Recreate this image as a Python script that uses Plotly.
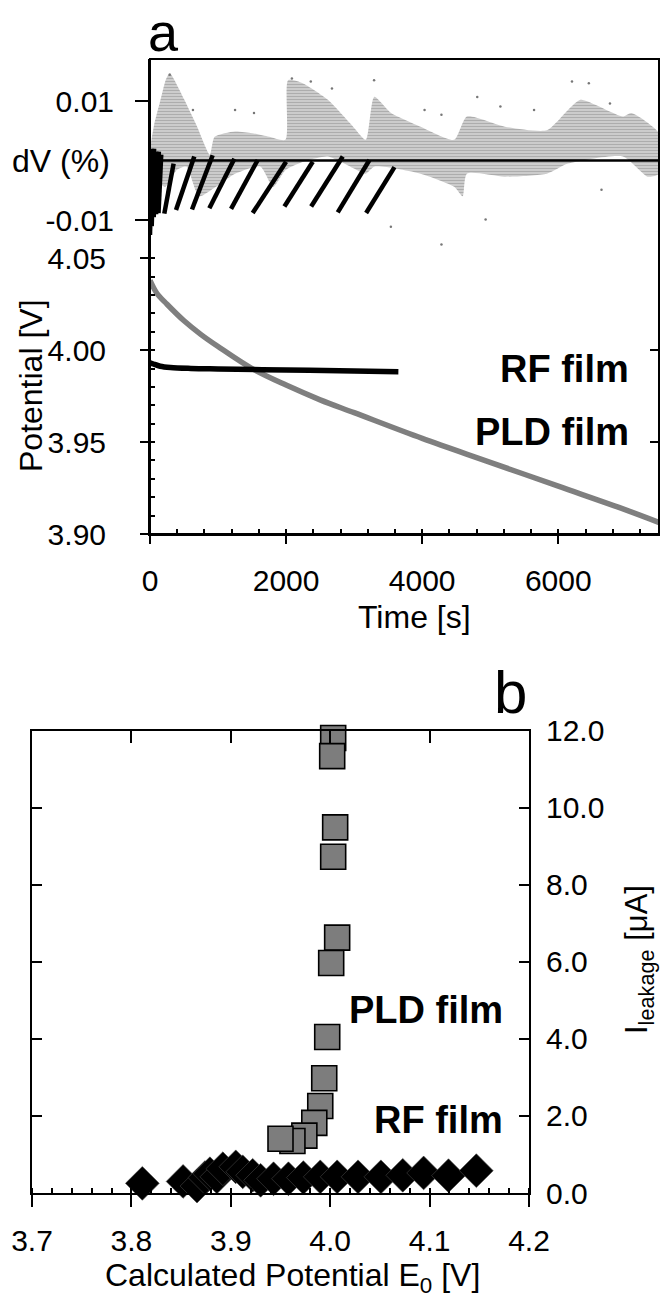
import plotly.graph_objects as go

W, H = 660, 1298
FONT = "Liberation Sans, Arial, Helvetica, sans-serif"

# ---------------- panel a: potential vs time ----------------
pld_t = [0, 100, 250, 500, 750, 1000, 1500, 2000, 2500, 3000, 4000, 5000, 6000, 7000, 7500]
pld_v = [4.038, 4.031, 4.025, 4.016, 4.0085, 4.002, 3.990, 3.981, 3.973, 3.966,
         3.952, 3.939, 3.926, 3.913, 3.906]

rf_t = [0, 50, 150, 300, 600, 1000, 2000, 3000, 3650]
rf_v = [3.9932, 3.9925, 3.9913, 3.9906, 3.9901, 3.9898, 3.9892, 3.9887, 3.9883]

# ---------------- panel a: dV (%) ----------------
# envelope of the grey PLD scatter (upper and lower edge)
band_up_t = [0, 60, 150, 230, 290, 360, 505, 693, 880, 950, 1250, 1500, 1750, 1990, 2030,
             2243, 2614, 2985, 3171, 3295, 3543, 3976, 4471, 4657, 5214, 5833, 6143,
             6329, 6948, 7072, 7480]
band_up_dv = [0.002, 0.006, 0.010, 0.0135, 0.0147, 0.0135, 0.0102, 0.0057, 0.0010, 0.0040,
              0.0049, 0.0046, 0.0040, 0.0035, 0.0135, 0.0130, 0.0102, 0.0057, 0.0035,
              0.0107, 0.0080, 0.0057, 0.0035, 0.0074, 0.0057, 0.0051, 0.0085, 0.0102,
              0.0074, 0.0080, 0.0046]
band_lo_t = [0, 60, 150, 225, 400, 535, 721, 969, 1250, 1620, 1810, 1990, 2300, 2614, 3047,
             3171, 3300, 3976, 4471, 4595, 4657, 5214, 5833, 6143, 6948, 7318, 7480]
band_lo_dv = [-0.0120, -0.0080, -0.0040, -0.0044, -0.0015, -0.0010, -0.0060, -0.0044,
              -0.0022, -0.0010, -0.0044, -0.0016, 0.0000, 0.0007, -0.0016, -0.0022,
              -0.0010, -0.0022, -0.0044, -0.0060, -0.0022, -0.0027, -0.0022, -0.0005,
              0.0007, -0.0027, -0.0022]

# scattered grey points outside the band
dv_dot_t = [290, 631, 1250, 1528, 2085, 2363, 2674, 3293, 4035, 4283, 4809, 5149, 5644,
            6201, 6449, 6759, 3540, 4932, 6635, 4283]
dv_dot_v = [0.0144, 0.0085, 0.0085, 0.0080, 0.0138, 0.0133, 0.0121, 0.0135, 0.0085,
            0.0077, 0.0107, 0.0091, 0.0085, 0.0133, 0.0130, 0.0096, -0.0111, -0.0099,
            -0.0049, -0.0141]

# black RF dV strokes (start -> end)
rf_dv_t0 = [0, 25, 55, 90, 125, 210, 382, 617, 872, 1191, 1509, 1975, 2368, 2759, 3176]
rf_dv_v0 = [-0.0125, -0.0110, -0.0095, -0.0090, -0.0088, -0.0089, -0.0083, -0.0082,
            -0.0080, -0.0081, -0.0088, -0.0077, -0.0077, -0.0087, -0.0088]
rf_dv_t1 = [30, 60, 95, 130, 165, 347, 651, 921, 1240, 1583, 2000, 2392, 2833, 3225, 3593]
rf_dv_v1 = [0.0020, 0.0020, 0.0015, 0.0015, 0.0010, -0.0005, 0.0007, 0.0009, 0.0003,
            0.0001, -0.0002, -0.0002, 0.0007, 0.0001, -0.0011]

# ---------------- panel b: leakage current ----------------
pld_e0 = [4.003, 4.002, 4.005, 4.003, 4.007, 4.001, 3.997, 3.994, 3.990, 3.984, 3.974,
          3.962, 3.950]
pld_i = [11.81, 11.34, 9.49, 8.73, 6.63, 5.97, 4.05, 2.98, 2.26, 1.82, 1.49, 1.35, 1.41]

rf_e0 = [3.811, 3.852, 3.866, 3.874, 3.879, 3.886, 3.892, 3.898, 3.905, 3.912, 3.922,
         3.930, 3.943, 3.958, 3.973, 3.990, 4.007, 4.028, 4.051, 4.073, 4.094, 4.119, 4.147]
rf_i = [0.25, 0.30, 0.18, 0.40, 0.50, 0.42, 0.63, -0.06, 0.68, 0.55, 0.46, 0.33, 0.37,
        0.37, 0.40, 0.42, 0.42, 0.42, 0.42, 0.46, 0.52, 0.45, 0.58]


def px(x):
    return x / W


def py(y):
    return 1 - y / H


# build polygon of the grey band and the broken stroke line
band_x = band_up_t + band_lo_t[::-1]
band_y = band_up_dv + band_lo_dv[::-1]
stroke_x, stroke_y = [], []
for a, b, c, d in zip(rf_dv_t0, rf_dv_v0, rf_dv_t1, rf_dv_v1):
    stroke_x += [a, c, None]
    stroke_y += [b, d, None]

fig = go.Figure()

# dV panel
fig.add_trace(go.Scatter(
    x=band_x, y=band_y, xaxis="x", yaxis="y2", mode="lines", fill="toself",
    fillcolor="rgba(0,0,0,0)", line=dict(width=0, shape="spline", smoothing=0.6),
    fillpattern=dict(shape="-", fgcolor="#5c5c5c", bgcolor="white", size=3, solidity=0.75),
    showlegend=False, hoverinfo="skip"))
fig.add_trace(go.Scatter(
    x=dv_dot_t, y=dv_dot_v, xaxis="x", yaxis="y2", mode="markers",
    marker=dict(size=2.5, color="#777777"), showlegend=False, hoverinfo="skip"))
fig.add_trace(go.Scatter(
    x=stroke_x, y=stroke_y, xaxis="x", yaxis="y2", mode="lines",
    line=dict(color="black", width=4.5), showlegend=False, hoverinfo="skip"))

# potential panel
fig.add_trace(go.Scatter(
    x=pld_t, y=pld_v, mode="lines", line=dict(color="#7f7f7f", width=5.5, shape="spline"),
    showlegend=False))
fig.add_trace(go.Scatter(
    x=rf_t, y=rf_v, mode="lines", line=dict(color="black", width=5.5, shape="spline"),
    showlegend=False))
fig.add_trace(go.Scatter(x=[None], y=[None], xaxis="x", yaxis="y3", showlegend=False))

# panel b
fig.add_trace(go.Scatter(
    x=rf_e0, y=rf_i, xaxis="x2", yaxis="y4", mode="markers", cliponaxis=False,
    marker=dict(symbol="diamond", size=26, color="black", line=dict(color="#444", width=0.6)),
    showlegend=False))
fig.add_trace(go.Scatter(
    x=pld_e0, y=pld_i, xaxis="x2", yaxis="y4", mode="markers", cliponaxis=False,
    marker=dict(symbol="square", size=25, color="#7d7d7d", line=dict(color="black", width=1.6)),
    showlegend=False))
fig.add_trace(go.Scatter(x=[None], y=[None], xaxis="x3", yaxis="y5", showlegend=False))

tickfont = dict(family=FONT, size=30, color="black")
axcommon = dict(showgrid=False, zeroline=False, showline=True, linecolor="black",
                linewidth=2, tickcolor="black", tickwidth=2, tickfont=tickfont,
                automargin=False)

fig.update_layout(
    width=W, height=H, margin=dict(l=0, r=0, t=0, b=0, pad=0, autoexpand=False),
    paper_bgcolor="white", plot_bgcolor="rgba(0,0,0,0)",
    font=dict(family=FONT, color="black"),
    xaxis=dict(axcommon, domain=[px(150), px(659)], anchor="y", range=[0, 7480],
               tickmode="linear", tick0=0, dtick=2000, ticks="outside", ticklen=8,
               ticklabelstandoff=11,
               minor=dict(tickmode="linear", tick0=0, dtick=400, ticks="inside",
                          ticklen=5, tickwidth=1.5, tickcolor="black")),
    yaxis=dict(axcommon, domain=[py(534), py(258.3)], anchor="x", range=[3.90, 4.05],
               tickmode="linear", tick0=3.90, dtick=0.05, tickformat=".2f",
               ticks="outside", ticklen=8, ticklabelstandoff=28,
               minor=dict(tickmode="linear", tick0=3.90, dtick=0.01, ticks="inside",
                          ticklen=5, tickwidth=1.5, tickcolor="black")),
    yaxis2=dict(axcommon, domain=[py(300), py(59)], anchor="x", range=[-0.0234, 0.01706],
                tickmode="array", tickvals=[-0.01, 0.01], ticktext=["-0.01", "0.01"],
                ticks="outside", ticklen=13, ticklabelstandoff=15),
    yaxis3=dict(axcommon, overlaying="y", anchor="x", side="right", range=[3.90, 4.05],
                tickmode="linear", tick0=3.90, dtick=0.05, ticks="inside", ticklen=9,
                showticklabels=False),
    xaxis2=dict(axcommon, domain=[px(32), px(529)], anchor="y4", range=[3.7, 4.2],
                tickmode="linear", tick0=3.7, dtick=0.1, tickformat=".1f",
                ticks="outside", ticklen=12, ticklabelstandoff=8,
                minor=dict(tickmode="linear", tick0=3.7, dtick=0.02, ticks="inside",
                           ticklen=5, tickwidth=1.5, tickcolor="black")),
    xaxis3=dict(axcommon, overlaying="x2", anchor="y4", side="top", range=[3.7, 4.2],
                tickmode="linear", tick0=3.7, dtick=0.1, ticks="inside", ticklen=12,
                showticklabels=False),
    yaxis4=dict(axcommon, domain=[py(1193), py(730.7)], anchor="x2", side="right",
                range=[0, 12], tickmode="linear", tick0=0, dtick=2, tickformat=".1f",
                ticks="inside", ticklen=10, ticklabelstandoff=9),
    yaxis5=dict(axcommon, overlaying="y4", anchor="x2", side="left", range=[0, 12],
                tickmode="linear", tick0=0, dtick=2, ticks="inside", ticklen=10,
                showticklabels=False),
)

# frame of panel a and the dV zero line
fig.add_shape(type="rect", xref="x domain", yref="paper", x0=0, x1=1, y0=py(534), y1=py(59),
              line=dict(color="black", width=2), layer="above")
fig.add_shape(type="line", xref="x domain", yref="y2", x0=0, x1=1, y0=0, y1=0,
              line=dict(color="black", width=2.5), layer="above")

big = dict(family=FONT, size=32, color="black")
bold = dict(family=FONT, size=38, color="black", weight="bold")
ann = [
    dict(text="a", x=px(163), y=1, yanchor="top", font=dict(family=FONT, size=54)),
    dict(text="b", x=px(510), y=py(692), font=dict(family=FONT, size=60)),
    dict(text="dV (%)", x=px(112), y=py(161), xanchor="right", font=big),
    dict(text="Potential [V]", x=px(31), y=py(386), textangle=-90, font=big),
    dict(text="Time [s]", x=px(414), y=py(617), font=big),
    dict(text="Calculated Potential E<sub>0</sub> [V]", x=px(292), y=py(1277), font=big),
    dict(text="I<sub>leakage</sub> [μA]", x=px(639), y=py(960), textangle=-90,
         font=dict(family=FONT, size=31, color="black")),
    dict(text="RF film", x=px(631), y=py(369), xanchor="right", font=bold),
    dict(text="PLD film", x=px(631), y=py(432), xanchor="right", font=bold),
    dict(text="PLD film", x=px(505), y=py(1010), xanchor="right", font=bold),
    dict(text="RF film", x=px(505), y=py(1120), xanchor="right", font=bold),
]
for a in ann:
    a.setdefault("xanchor", "center")
    a.setdefault("yanchor", "middle")
    fig.add_annotation(xref="paper", yref="paper", showarrow=False, **a)

# the page body has a default 8px margin; remove it so the figure fills the window
fig.write_html("out.html", config={"displayModeBar": False},
               post_script="document.body.style.margin='0';")
